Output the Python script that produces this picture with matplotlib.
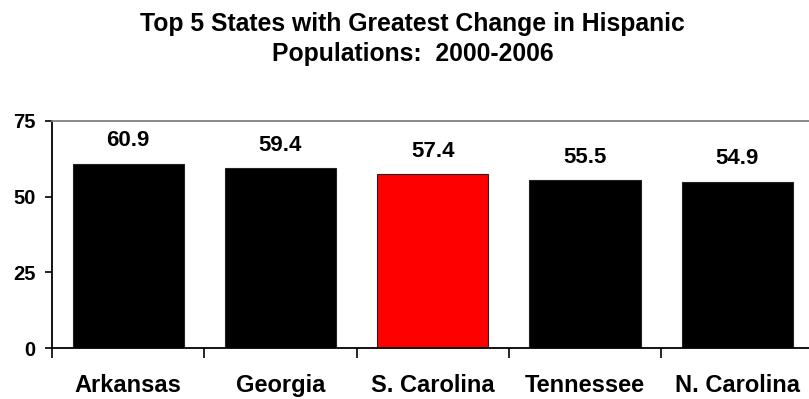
import matplotlib
matplotlib.use("Agg")
import matplotlib.pyplot as plt
import numpy as np

states = ["Arkansas", "Georgia", "S. Carolina", "Tennessee", "N. Carolina"]
pct_change = [60.9, 59.4, 57.4, 55.5, 54.9]
bar_colors = ["#000000", "#000000", "#ff0000", "#000000", "#000000"]
y_ticks = [0, 25, 50, 75]
title_lines = ["Top 5 States with Greatest Change in Hispanic", "Populations:  2000-2006"]

plt.rcParams["font.family"] = ["Liberation Sans", "DejaVu Sans"]
plt.rcParams["font.weight"] = "bold"

W, H = 809, 399
fig = plt.figure(figsize=(W / 100, H / 100), dpi=100)
ax = fig.add_axes([52 / W, 51 / H, 761.5 / W, 227 / H])

x = np.arange(len(states))
bars = ax.bar(x, pct_change, width=0.73, color=bar_colors,
              edgecolor="#222222", linewidth=0.8, zorder=2)

for b, v in zip(bars, pct_change):
    ax.annotate(f"{v:.1f}", (b.get_x() + b.get_width() / 2, v),
                xytext=(0, 9), textcoords="offset points",
                ha="center", va="bottom", fontsize=16, fontweight="bold")

ax.set_xlim(-0.5, len(states) - 0.5)
ax.set_ylim(0, 75)
ax.set_yticks(y_ticks)
ax.set_yticklabels([str(t) for t in y_ticks], fontsize=14.5, fontweight="bold")

# category names centred under bars, tick marks at the category boundaries
ax.set_xticks(np.arange(len(states) + 1) - 0.5)
ax.set_xticklabels([])
ax.set_xticks(x, minor=True)
ax.set_xticklabels(states, minor=True, fontsize=17, fontweight="bold")
ax.tick_params(axis="x", which="minor", length=0, pad=19)
ax.tick_params(axis="x", which="major", length=7, width=1.2, direction="out")
ax.tick_params(axis="y", length=5, width=1.2, direction="out", pad=7)

ax.spines["left"].set_linewidth(1.3)
ax.spines["bottom"].set_linewidth(1.3)
ax.spines["top"].set_color("#808080")
ax.spines["top"].set_linewidth(1.3)
ax.spines["right"].set_color("#808080")

for line, base_y in zip(title_lines, (30.5, 61.5)):
    fig.text(412.5 / W, 1 - base_y / H, line, ha="center", va="baseline",
             fontsize=17.8, fontweight="bold")

fig.savefig("out.png", dpi=100)
